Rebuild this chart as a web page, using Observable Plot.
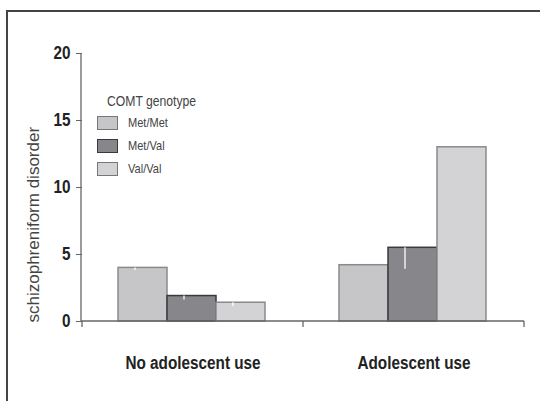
<!DOCTYPE html>
<html><head><meta charset="utf-8">
<script src="https://cdn.jsdelivr.net/npm/d3@7"></script>
<script src="https://cdn.jsdelivr.net/npm/@observablehq/plot@0.6"></script>
<style>
body{margin:0;background:#fff;}
#wrap{position:relative;width:540px;height:401px;overflow:hidden;font-family:"Liberation Sans",Arial,sans-serif;color:#222;}
#border{position:absolute;left:6px;top:10px;width:700px;height:600px;border-top:2px solid #444;border-left:2px solid #444;pointer-events:none;}
#chart{position:absolute;left:0;top:0;}
#legend{position:absolute;left:97px;top:92px;color:#444;}
#legend .title{font-size:14px;margin-left:10px;height:19px;line-height:19px;display:inline-block;transform:scaleX(0.87);transform-origin:left center;white-space:nowrap;}
#legend .row{display:flex;align-items:center;height:23px;font-size:13px;}
#legend .sw{width:19px;height:12px;border:1px solid #666;margin-right:10px;flex:none;}
#legend .row span{display:inline-block;transform:scaleX(0.85);transform-origin:left center;white-space:nowrap;}
</style></head>
<body>
<div id="wrap">
  <div id="chart"></div>
  <div id="legend"></div>
  <div id="border"></div>
</div>
<script>
// ---- data ----
const groups = ["No adolescent use", "Adolescent use"];
const genotypes = ["Met/Met", "Met/Val", "Val/Val"];
const noUseValues = [4.0, 1.9, 1.4];
const adolescentUseValues = [4.2, 5.5, 13.0];
const noUseLower = [3.8, 1.6, 1.1];
const adolescentUseLower = [4.2, 3.9, 13.0];
const genotypeFills = ["#c6c6c8", "#87878b", "#d3d3d5"];
const genotypeStrokes = ["#8a8a8c", "#3a3a3c", "#8a8a8c"];
const legendStrokes = ["#777", "#3a3a3c", "#777"];
const yTicks = [0, 5, 10, 15, 20];
const yLabel = "schizophreniform disorder";
const legendTitle = "COMT genotype";

const series = [noUseValues, adolescentUseValues];
const lowers = [noUseLower, adolescentUseLower];
const rows = [];
groups.forEach((g, gi) => genotypes.forEach((t, ti) => rows.push({
  group: g, genotype: t, value: series[gi][ti], low: lowers[gi][ti],
  fill: genotypeFills[ti], stroke: genotypeStrokes[ti]
})));

const chart = Plot.plot({
  width: 540, height: 401,
  marginLeft: 81, marginRight: 16, marginTop: 53, marginBottom: 80,
  style: {background: "transparent", fontFamily: '"Liberation Sans",Arial,sans-serif', color: "#222"},
  fx: {domain: groups, padding: 0},
  x: {domain: genotypes, padding: 0, insetLeft: 36, insetRight: 38},
  y: {domain: [0, 20]},
  color: {type: "identity"},
  marks: [
    Plot.barY(rows, {fx: "group", x: "genotype", y: "value", fill: "fill", stroke: "stroke", strokeWidth: 1.5}),
    Plot.ruleX(rows.filter(d => d.low < d.value), {fx: "group", x: "genotype", y1: "low", y2: "value", stroke: "white", strokeWidth: 1.3, dx: -8}),
    Plot.axisY({ticks: yTicks, tickSize: 6, tickPadding: 6, fontSize: 18, fontWeight: "bold", label: null, stroke: "#666"}),
    Plot.axisFx({anchor: "bottom", tickSize: 0, tickPadding: 35, fontSize: 18, fontWeight: "bold", label: null}),
    Plot.axisX({ticks: [], label: null}),
    Plot.text([{fx: groups[0], label: yLabel}], {fx: "fx", text: "label", frameAnchor: "bottom-left", rotate: -90, textAnchor: "start", dx: -44, dy: 1, fontSize: 17, fill: "#444"})
  ]
});
document.getElementById("chart").appendChild(chart);

const svg = d3.select(chart);
// narrow the bold axis labels (condensed face look)
svg.selectAll('g[aria-label="y-axis tick label"] text, g[aria-label="fx-axis tick label"] text').each(function() {
  const w = this.getComputedTextLength();
  this.setAttribute("textLength", (w * 0.85).toFixed(1));
  this.setAttribute("lengthAdjust", "spacingAndGlyphs");
});

// axis lines drawn from the plot's own scales
const ys = chart.scale("y"), fxs = chart.scale("fx");
const y0 = ys.apply(0), yTop = ys.apply(20);
const xl = fxs.range[0], xr = fxs.range[1];
const g = svg.append("g").attr("stroke", "#666").attr("stroke-width", 1.3);
g.append("line").attr("x1", xl).attr("x2", xl).attr("y1", yTop).attr("y2", y0);
g.append("line").attr("x1", xl).attr("x2", xr).attr("y1", y0).attr("y2", y0);
const bounds = groups.map(d => fxs.apply(d)).concat([xr]);
bounds.forEach(x => g.append("line").attr("x1", x).attr("x2", x).attr("y1", y0).attr("y2", y0 + 6));

// legend
const leg = d3.select("#legend");
leg.append("div").append("span").attr("class", "title").text(legendTitle);
genotypes.forEach((t, i) => {
  const r = leg.append("div").attr("class", "row");
  r.append("div").attr("class", "sw").style("background", genotypeFills[i]).style("border-color", legendStrokes[i]);
  r.append("span").text(t);
});
</script>
</body></html>
